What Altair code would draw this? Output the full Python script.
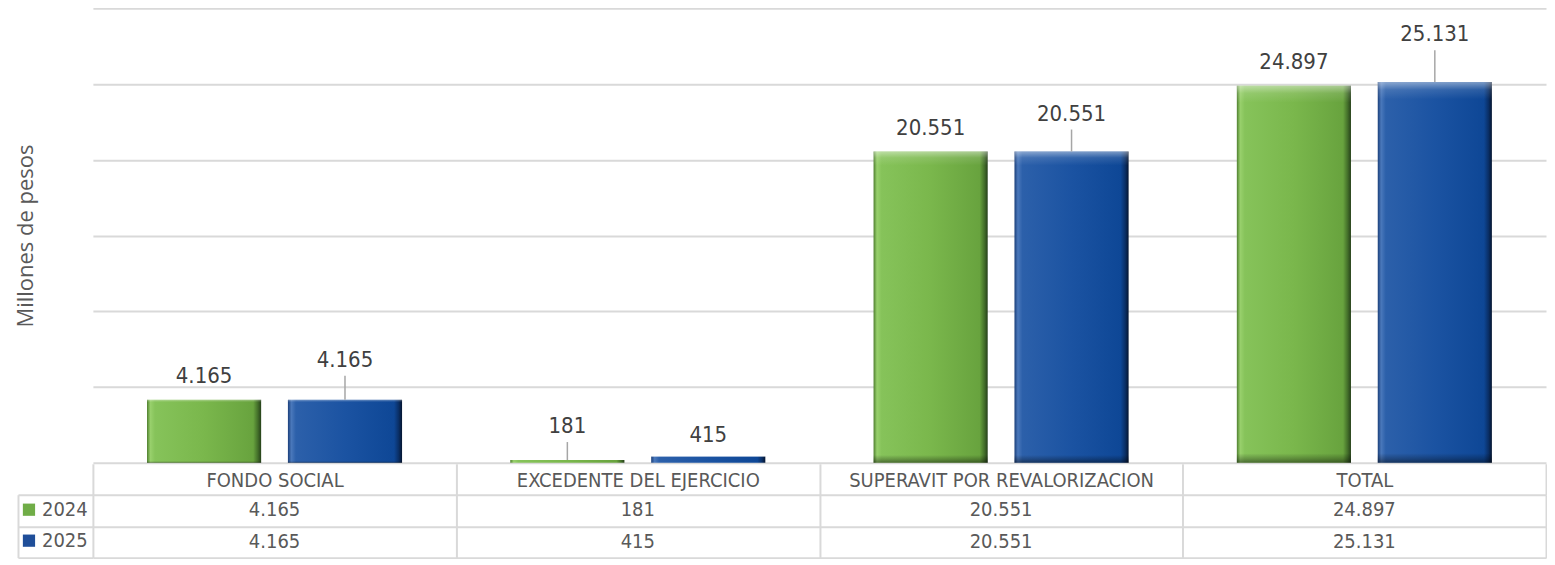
import altair as alt
import pandas as pd

# ---------------- data ----------------
categories = ["FONDO SOCIAL", "EXCEDENTE DEL EJERCICIO", "SUPERAVIT POR REVALORIZACION", "TOTAL"]
series = ["2024", "2025"]
values_2024 = [4165, 181, 20551, 24897]
values_2025 = [4165, 415, 20551, 25131]
y_ticks = [0, 5000, 10000, 15000, 20000, 25000, 30000]

# ---------------- style ----------------
LABEL_FONT = "DejaVu Sans Condensed, DejaVu Sans"
TITLE_FONT = "Open Sans"
GRID = "#d9d9d9"
TEXT = "#595959"
# manual label lift above the bar top (px), as placed in the source chart
DEFAULT_LIFT = 17
LABEL_LIFT = {
    ("2024", "EXCEDENTE DEL EJERCICIO"): 27,
    ("2025", "FONDO SOCIAL"): 33,
    ("2025", "EXCEDENTE DEL EJERCICIO"): 15,
    ("2025", "SUPERAVIT POR REVALORIZACION"): 31,
    ("2025", "TOTAL"): 41,
}
W, H = 1455, 455


def fmt(v):
    return f"{v:,}".replace(",", ".")


rows = []
for s, vals in zip(series, [values_2024, values_2025]):
    for c, v in zip(categories, vals):
        rows.append({"cat": c, "series": s, "value": v, "label": fmt(v),
                     "lift": LABEL_LIFT.get((s, c), DEFAULT_LIFT)})
df = pd.DataFrame(rows)


def grad(stops, horizontal=True):
    return alt.Gradient(
        gradient="linear",
        stops=[alt.GradientStop(color=c, offset=o) for o, c in stops],
        x1=0, x2=1 if horizontal else 0, y1=0, y2=0 if horizontal else 1,
    )


green_fill = grad([(0, "#4f7f2f"), (0.03, "#98d06c"), (0.07, "#86c35a"), (0.5, "#7ab74c"),
                   (0.93, "#68a33e"), (0.97, "#44702a"), (1, "#26401a")])
blue_fill = grad([(0, "#1a3f7a"), (0.03, "#4a78bb"), (0.07, "#2c60aa"), (0.5, "#1b53a2"),
                  (0.93, "#0e4796"), (0.97, "#0a2f66"), (1, "#051530")])
bevel = grad([(0, "rgba(255,255,255,0.45)"), (0.02, "rgba(255,255,255,0.12)"),
              (0.045, "rgba(255,255,255,0)"), (0.975, "rgba(0,0,0,0)"),
              (0.99, "rgba(0,0,0,0.25)"), (1, "rgba(0,0,0,0.45)")], horizontal=False)

# ---------------- bar panel ----------------
x_enc = alt.X("cat:N", sort=categories, scale=alt.Scale(paddingInner=0, paddingOuter=0), axis=None)
xo_enc = alt.XOffset("series:N", sort=series,
                     scale=alt.Scale(domain=series, paddingInner=0.19, paddingOuter=0.384))
y_enc = alt.Y(
    "value:Q",
    scale=alt.Scale(domain=[0, 30000], nice=False),
    axis=alt.Axis(values=y_ticks, labels=False, ticks=False, domain=False, grid=True,
                  gridColor=GRID, gridWidth=2, title="Millones de pesos",
                  titleFont=TITLE_FONT, titleFontSize=22, titleFontWeight="normal",
                  titleColor=TEXT, titlePadding=55),
)

base = alt.Chart(df).encode(x=x_enc, xOffset=xo_enc, y=y_enc)
bars_g = base.transform_filter("datum.series == '2024'").mark_bar(color=green_fill)
bars_b = base.transform_filter("datum.series == '2025'").mark_bar(color=blue_fill)
bars_bevel = base.mark_bar(color=bevel)
leaders = base.transform_filter("datum.lift > 20").mark_rule(
    color="#a6a6a6", strokeWidth=1.5, y2Offset=alt.expr("-(datum.lift - 9)")
).encode(y2="value:Q")
labels = base.mark_text(
    font=LABEL_FONT, fontSize=22, color="#404040", baseline="alphabetic",
    dy=alt.expr("-datum.lift"),
).encode(text="label:N")

top = alt.layer(bars_g, bars_b, bars_bevel, leaders, labels).properties(width=W, height=H)

# ---------------- data table ----------------
tx = alt.X(
    "cat:N", sort=categories, scale=alt.Scale(paddingInner=0, paddingOuter=0),
    axis=alt.Axis(orient="top", title=None, labelFont=LABEL_FONT, labelFontSize=20,
                  labelColor=TEXT, labelAngle=0, labelBaseline="middle", labelPadding=-17,
                  labelLimit=0, ticks=True, tickBand="extent", tickSize=31, tickColor=GRID,
                  tickWidth=2, domain=False, grid=True, gridColor=GRID, gridWidth=2),
)
ty = alt.Y(
    "series:N", sort=series, scale=alt.Scale(paddingInner=0, paddingOuter=0),
    axis=alt.Axis(title=None, labels=False, ticks=True, tickBand="extent", tickSize=75,
                  tickColor=GRID, tickWidth=2, domain=False, grid=True, gridColor=GRID,
                  gridWidth=2),
)
ty_plain = alt.Y("series:N", sort=series, scale=alt.Scale(paddingInner=0, paddingOuter=0),
                 axis=None)
ty_border = alt.Y(
    "series:N", sort=series, scale=alt.Scale(paddingInner=0, paddingOuter=0),
    axis=alt.Axis(orient="left", offset=75, title=None, labels=False, ticks=False, grid=False,
                  domain=True, domainColor=GRID, domainWidth=2),
)

tbl = alt.Chart(df)
cells = tbl.mark_text(font=LABEL_FONT, fontSize=20, color=TEXT).encode(x=tx, y=ty, text="label:N")
legend_marks = tbl.mark_square(opacity=0).encode(
    x=alt.X("cat:N", sort=categories, scale=alt.Scale(paddingInner=0, paddingOuter=0)),
    y=ty_plain,
    color=alt.Color("series:N", sort=series,
                    scale=alt.Scale(domain=series, range=["#70AD47", "#1F4E99"]),
                    legend=alt.Legend(orient="none", legendX=-74, legendY=5, title=None,
                                      symbolType="square", symbolSize=150, symbolOpacity=1,
                                      symbolStrokeWidth=0, labelFont=LABEL_FONT,
                                      labelFontSize=20, labelColor=TEXT, rowPadding=11,
                                      padding=0, labelOffset=3)),
)
border = tbl.mark_tick(opacity=0).encode(y=ty_border)

table = alt.layer(cells, legend_marks, border).resolve_scale(y="independent").properties(
    width=W, height=63)

chart = (
    alt.vconcat(top, table, spacing=0)
    .resolve_scale(x="independent")
    .resolve_legend(color="independent")
    .properties(padding={"left": 7, "top": 0, "right": 0, "bottom": 0})
    .configure(background="white")
    .configure_view(strokeWidth=0, stroke="transparent")
)

chart.save("out.html", embed_options={"renderer": "svg", "actions": False})
